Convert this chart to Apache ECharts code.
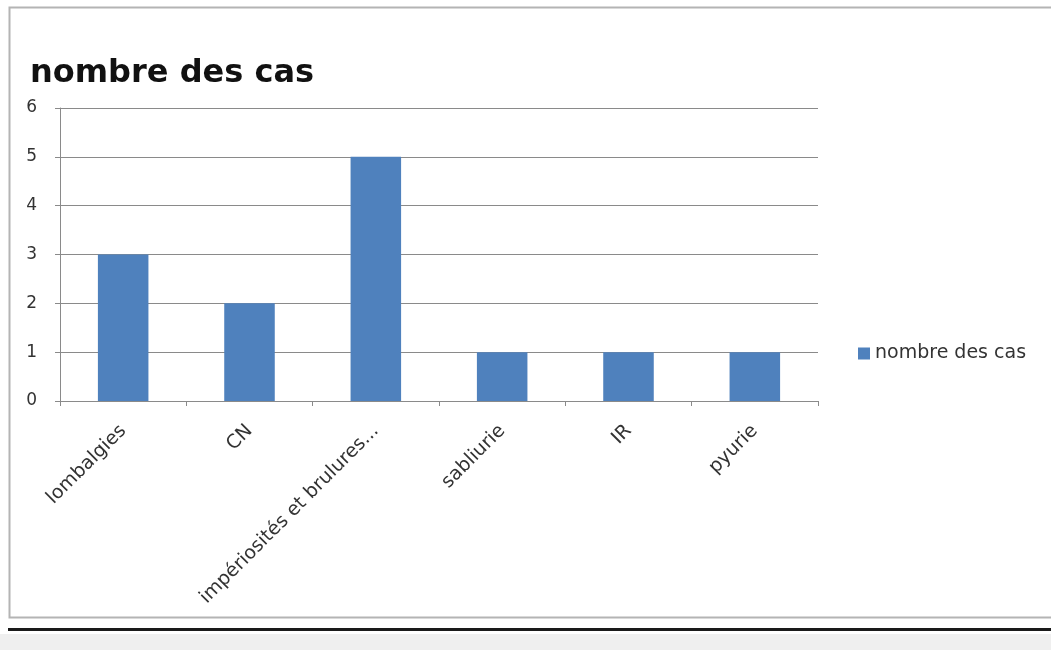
<!DOCTYPE html>
<html>
<head>
<meta charset="utf-8">
<script src="https://cdn.jsdelivr.net/npm/echarts@6/dist/echarts.min.js"></script>
<style>
  html, body { margin: 0; padding: 0; background: #ffffff; }
  #chart { width: 1051px; height: 650px; }
</style>
</head>
<body>
<div id="chart"></div>
<script>
// Symptoms and number of cases
const categories = ['lombalgies', 'CN', 'impériosités et brulures...', 'sabliurie', 'IR', 'pyurie'];
const cases = [3, 2, 5, 1, 1, 1];
const seriesName = 'nombre des cas';
const yTicks = [0, 1, 2, 3, 4, 5, 6];

const chart = echarts.init(document.getElementById('chart'), null, { renderer: 'canvas' });

const font = 'DejaVu Sans, sans-serif';

chart.setOption({
  backgroundColor: '#ffffff',
  animation: false,
  title: {
    text: seriesName,
    left: 25,
    top: 53,
    textStyle: { fontFamily: font, fontWeight: 'bold', fontSize: 32, color: '#111111' }
  },
  legend: {
    data: [seriesName],
    left: 853,
    top: 339,
    itemWidth: 12,
    itemHeight: 12,
    icon: 'rect',
    textStyle: { fontFamily: font, fontSize: 19, color: '#333333' }
  },
  grid: { left: 60, right: 233, top: 108, bottom: 249, containLabel: false },
  xAxis: {
    type: 'category',
    data: categories,
    axisLine: { lineStyle: { color: '#8a8a8a', width: 1 } },
    axisTick: { show: true, length: 5, lineStyle: { color: '#8a8a8a' } },
    axisLabel: {
      rotate: 45,
      margin: 27,
      interval: 0,
      fontFamily: font,
      fontSize: 19,
      color: '#333333'
    }
  },
  yAxis: {
    type: 'value',
    min: yTicks[0],
    max: yTicks[yTicks.length - 1],
    interval: 1,
    axisLine: { show: true, lineStyle: { color: '#8a8a8a', width: 1 } },
    axisTick: { show: true, length: 5, lineStyle: { color: '#8a8a8a' } },
    axisLabel: { fontFamily: font, fontSize: 17, color: '#333333', margin: 23 },
    splitLine: { show: true, lineStyle: { color: '#8a8a8a', width: 1 } }
  },
  series: [{
    name: seriesName,
    type: 'bar',
    data: cases,
    barWidth: '40%',
    itemStyle: { color: '#4f81bd' }
  }],
  graphic: [
    // chart frame
    {
      type: 'rect',
      shape: { x: 9.5, y: 7.5, width: 1060, height: 610 },
      style: { fill: null, stroke: '#b4b4b4', lineWidth: 2 },
      silent: true, z: -1
    },
    // page rule below the chart
    {
      type: 'rect',
      shape: { x: 8, y: 628, width: 1043, height: 3 },
      style: { fill: '#1a1a1a' },
      silent: true
    },
    {
      type: 'rect',
      shape: { x: 0, y: 634, width: 1051, height: 16 },
      style: { fill: '#efefef' },
      silent: true
    }
  ]
});
</script>
</body>
</html>
